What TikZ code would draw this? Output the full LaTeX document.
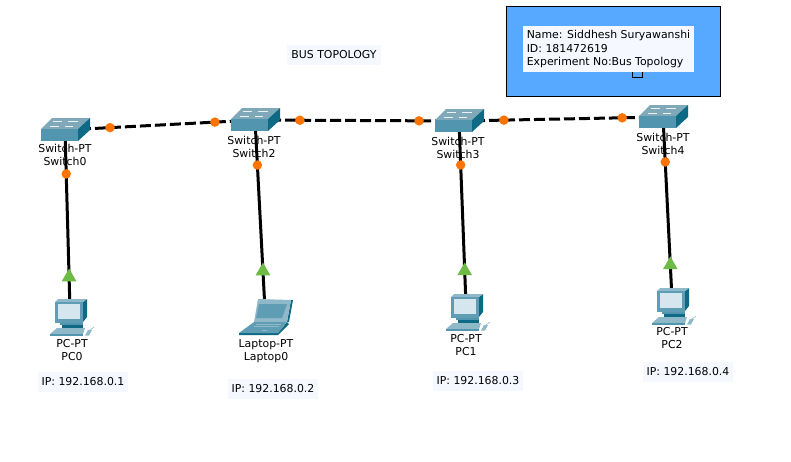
\documentclass[tikz,border=0pt]{standalone}
\usepackage{fontspec}
\setmainfont{DejaVu Sans}
\usetikzlibrary{shapes.geometric,positioning}
\definecolor{swtop}{HTML}{7FA9B8}
\definecolor{swfront}{HTML}{5196AE}
\definecolor{swside}{HTML}{0E6A84}
\definecolor{pcbody}{HTML}{5E9DB3}
\definecolor{pcscreen}{HTML}{D6E6EE}
\definecolor{pclight}{HTML}{8FB9C8}
\definecolor{notefill}{HTML}{F6F8FF}
\definecolor{bluebox}{HTML}{57A9FF}
\definecolor{dotorange}{HTML}{FF7300}
\definecolor{arrowgreen}{HTML}{6DBB45}
\tikzset{%
devbox/.style={minimum width=36pt, minimum height=22pt, inner sep=0pt},
devlabel/.style={align=center, inner sep=0pt, font=\fontsize{10.9}{13.6}\selectfont},
note/.style={fill=notefill, inner xsep=4pt, inner ysep=6pt, font=\fontsize{10.9}{13.6}\selectfont},
bus/.style={draw=black, line width=3pt, dash pattern=on 11pt off 4pt},
drop/.style={draw=black, line width=3pt},
dot/.style={circle, fill=dotorange, inner sep=0pt, minimum size=9.5pt},
tip/.style={regular polygon, regular polygon sides=3, fill=arrowgreen, inner sep=0pt, minimum size=17pt},
switchicon/.pic={
	\fill[swtop] (-24,-1) -- (13,-1) -- (25,-12) -- (-13,-12) -- cycle;
	\fill[swfront] (-24,-1) rectangle (13,11);
	\fill[swside] (13,-1) -- (25,-12) -- (25,0) -- (13,11) -- cycle;
	\draw[white!85!swtop, line width=.7pt] (-12,-8.5) -- (-3,-8.5) (3,-9) -- (13,-9) (-15,-3.5) -- (-6,-3.5) (0,-4) -- (8,-4);
},
pcicon/.pic={
	\fill[swside] (13,-8) -- (17,-11) -- (17,7) -- (13,12) -- cycle;
	\fill[pclight] (-15,-8) -- (-12,-11) -- (17,-11) -- (13,-8) -- cycle;
	\fill[pcbody] (-15,-8) rectangle (13,13);
	\fill[pcscreen] (-12,-6) rectangle (10,9);
	\fill[swfront] (-10,13) rectangle (13,15);
	\fill[swside] (-8,15) rectangle (13,18);
	\fill[pclight] (-20,24) -- (-13,18) -- (15,18) -- (13,24) -- cycle;
	\fill[swfront] (-20,24) rectangle (13,25.5);
	\fill[pclight] (15,25.5) -- (18,20) -- (22,20) -- (19,25.5) -- cycle;
	\draw[pclight, line width=.6pt] (20,20) -- (24,17);
},
laptopicon/.pic={
	\fill[swside] (28,-10) -- (24,12) -- (22,12) -- (26,-10) -- cycle;
	\fill[pclight] (-7,-11) -- (26,-10) -- (22,12) -- (-11,12) -- cycle;
	\fill[pcbody] (-6,-6) -- (22,-6) -- (17,8) -- (-9,8) -- cycle;
	\fill[swside] (-26,23) -- (13,23) -- (22,12) -- (24,14) -- (13,25) -- (-26,25) -- cycle;
	\fill[pcbody] (-11,12) -- (22,12) -- (13,23) -- (-26,23) -- cycle;
	\draw[pclight, line width=.8pt] (-9,14) -- (16,14) (-11,16) -- (14,16);
	\draw[pclight, line width=.8pt] (-3,20) -- (2,20);
}
}
\begin{document}
\begin{tikzpicture}[x=1pt,y=-1pt]
	\useasboundingbox (0,0) rectangle (791,461);
	\node[devbox] (sw0) at (65,130) {};
	\node[devbox] (sw2) at (255,120) {};
	\node[devbox] (sw3) at (459,121) {};
	\node[devbox] (sw4) at (663,117) {};
	\node[devbox] (pc0) at (70,310) {};
	\node[devbox] (lap0) at (265,310) {};
	\node[devbox] (pc1) at (466,305) {};
	\node[devbox] (pc2) at (672,299) {};
	% cables
	\path[bus] (sw0.center) -- (sw2.center);
	\path[bus] (sw2.center) -- (sw3.center);
	\path[bus] (sw3.center) -- (sw4.center);
	\path[drop] (sw0.center) -- (pc0.center);
	\path[drop] (sw2.center) -- (lap0.center);
	\path[drop] (sw3.center) -- (pc1.center);
	\path[drop] (sw4.center) -- (pc2.center);
	% icons
	\pic at (sw0) {switchicon};
	\pic at (sw2) {switchicon};
	\pic at (sw3) {switchicon};
	\pic at (sw4) {switchicon};
	\pic at (pc0) {pcicon};
	\pic at (lap0) {laptopicon};
	\pic at (pc1) {pcicon};
	\pic at (pc2) {pcicon};
	% link lights
	\path (sw0.center) -- node[dot,pos=.237] (d0a) {} node[dot,pos=.789] (d0b) {} (sw2.center);
	\path (sw2.center) -- node[dot,pos=.22] (d2a) {} node[dot,pos=.804] (d2b) {} (sw3.center);
	\path (sw3.center) -- node[dot,pos=.22] (d3a) {} node[dot,pos=.8] (d3b) {} (sw4.center);
	\path (sw0.center) -- node[dot,pos=.244] (d0c) {} node[tip,pos=.817] (t0) {} (pc0.center);
	\path (sw2.center) -- node[dot,pos=.237] (d2c) {} node[tip,pos=.795] (t1) {} (lap0.center);
	\path (sw3.center) -- node[dot,pos=.239] (d3c) {} node[tip,pos=.815] (t2) {} (pc1.center);
	\path (sw4.center) -- node[dot,pos=.247] (d4c) {} node[tip,pos=.813] (t3) {} (pc2.center);
	% device names
	\node[devlabel] (lsw0) at (65,155) {Switch-PT\\Switch0};
	\node[devlabel] (lsw2) at (254,147) {Switch-PT\\Switch2};
	\node[devlabel] (lsw3) at (458,148) {Switch-PT\\Switch3};
	\node[devlabel] (lsw4) at (663,144) {Switch-PT\\Switch4};
	\node[devlabel] (lpc0) at (72,350) {PC-PT\\PC0};
	\node[devlabel] (llap0) at (266,351) {Laptop-PT\\Laptop0};
	\node[devlabel] (lpc1) at (466,345) {PC-PT\\PC1};
	\node[devlabel] (lpc2) at (672,338) {PC-PT\\PC2};
	% notes
	\node[note] (ip0) at (83,382) {IP: 192.168.0.1};
	\node[note] (ip1) at (273,389) {IP: 192.168.0.2};
	\node[note] (ip2) at (478,381) {IP: 192.168.0.3};
	\node[note] (ip3) at (688,372) {IP: 192.168.0.4};
	\node[note] (title) at (334,55) {BUS TOPOLOGY};
	\node[draw=black, fill=bluebox, line width=.8pt, minimum width=214.5pt, minimum height=90pt, inner sep=0pt] (infobox) at (613.2,51) {};
	\node[draw=black, line width=.7pt, minimum width=10pt, minimum height=10pt, inner sep=0pt] (handle) at (637,72) {};
	\node[note, align=left, inner ysep=4pt] (info) at (608.5,49) {Name: Siddhesh Suryawanshi\\ID: 181472619\\Experiment No:Bus Topology};
\end{tikzpicture}
\end{document}
